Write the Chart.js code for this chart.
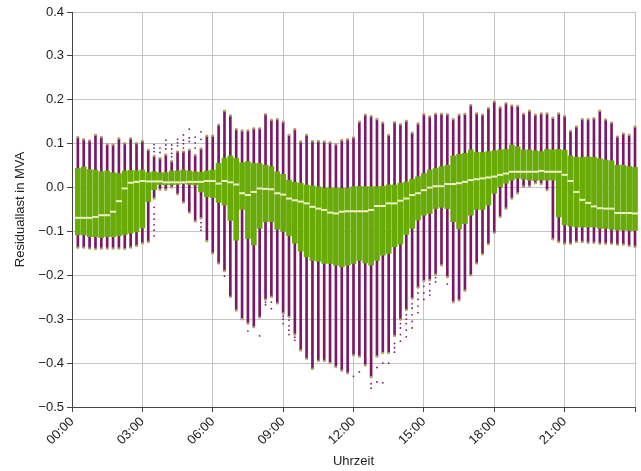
<!DOCTYPE html>
<html>
<head>
<meta charset="utf-8">
<script src="https://cdn.jsdelivr.net/npm/chart.js@4"></script>
<style>
  html, body { margin: 0; padding: 0; background: #fff; }
</style>
</head>
<body>
<canvas id="chart" width="641" height="471"></canvas>
<script>
// 15-minute slots, end of interval in hours (00:15 ... 24:00)
const slots = Array.from({ length: 96 }, (_, i) => (i + 1) * 0.25);

const maxs = [
  0.115, 0.110, 0.107, 0.120, 0.115, 0.099, 0.098, 0.112, 0.101, 0.112, 0.101, 0.106,
  0.086, 0.072, 0.067, 0.075, 0.060, 0.082, 0.082, 0.086, 0.074, 0.089, 0.118, 0.118,
  0.143, 0.175, 0.164, 0.133, 0.130, 0.130, 0.135, 0.135, 0.167, 0.154, 0.156, 0.150,
  0.120, 0.133, 0.105, 0.120, 0.106, 0.106, 0.105, 0.103, 0.099, 0.108, 0.110, 0.114,
  0.150, 0.166, 0.163, 0.156, 0.148, 0.120, 0.149, 0.144, 0.152, 0.125, 0.146, 0.167,
  0.162, 0.168, 0.168, 0.167, 0.156, 0.166, 0.168, 0.188, 0.169, 0.166, 0.181, 0.196,
  0.183, 0.192, 0.187, 0.186, 0.168, 0.175, 0.166, 0.169, 0.169, 0.159, 0.169, 0.163,
  0.129, 0.139, 0.156, 0.156, 0.158, 0.175, 0.155, 0.148, 0.116, 0.123, 0.120, 0.139,
];
const q3s = [
  0.044, 0.047, 0.041, 0.040, 0.036, 0.038, 0.034, 0.032, 0.038, 0.039, 0.038, 0.040,
  0.034, 0.036, 0.034, 0.034, 0.038, 0.038, 0.040, 0.038, 0.036, 0.035, 0.038, 0.040,
  0.055, 0.067, 0.072, 0.067, 0.057, 0.059, 0.055, 0.055, 0.051, 0.048, 0.036, 0.030,
  0.017, 0.012, 0.010, 0.006, 0.004, 0.002, 0.000, 0.000, -0.001, -0.002, -0.001, 0.002,
  0.003, 0.002, 0.002, 0.002, 0.003, 0.006, 0.006, 0.010, 0.013, 0.019, 0.025, 0.032,
  0.040, 0.044, 0.048, 0.051, 0.072, 0.076, 0.078, 0.086, 0.080, 0.080, 0.082, 0.084,
  0.086, 0.087, 0.097, 0.093, 0.086, 0.086, 0.084, 0.082, 0.087, 0.086, 0.087, 0.085,
  0.072, 0.069, 0.069, 0.070, 0.069, 0.066, 0.063, 0.061, 0.051, 0.051, 0.048, 0.046,
];
const medians = [
  -0.069, -0.069, -0.069, -0.067, -0.063, -0.063, -0.055, -0.031, -0.002, 0.011, 0.013, 0.015,
  0.014, 0.014, 0.014, 0.012, 0.012, 0.012, 0.012, 0.013, 0.013, 0.013, 0.015, 0.015,
  0.009, 0.015, 0.012, 0.007, -0.013, -0.017, -0.010, -0.002, -0.003, -0.004, -0.013, -0.016,
  -0.025, -0.029, -0.032, -0.036, -0.044, -0.048, -0.051, -0.057, -0.059, -0.055, -0.054, -0.054,
  -0.054, -0.054, -0.051, -0.042, -0.042, -0.036, -0.036, -0.030, -0.025, -0.017, -0.013, -0.006,
  0.000, 0.003, 0.003, 0.008, 0.008, 0.010, 0.013, 0.017, 0.019, 0.021, 0.023, 0.025,
  0.029, 0.032, 0.036, 0.036, 0.036, 0.036, 0.036, 0.038, 0.036, 0.036, 0.036, 0.029,
  0.015, -0.010, -0.028, -0.035, -0.043, -0.047, -0.048, -0.048, -0.058, -0.058, -0.058, -0.059,
];
const q1s = [
  -0.108, -0.108, -0.112, -0.112, -0.114, -0.112, -0.112, -0.110, -0.107, -0.104, -0.101, -0.092,
  -0.032, -0.005, 0.007, 0.006, 0.006, 0.007, 0.009, 0.007, 0.006, -0.010, -0.021, -0.023,
  -0.034, -0.040, -0.075, -0.120, -0.050, -0.116, -0.131, -0.093, -0.078, -0.078, -0.095, -0.100,
  -0.110, -0.127, -0.145, -0.158, -0.166, -0.168, -0.173, -0.173, -0.177, -0.181, -0.177, -0.173,
  -0.166, -0.172, -0.177, -0.166, -0.154, -0.150, -0.135, -0.129, -0.107, -0.093, -0.074, -0.063,
  -0.059, -0.048, -0.045, -0.048, -0.078, -0.094, -0.082, -0.063, -0.050, -0.050, -0.040, -0.013,
  0.002, 0.010, 0.017, 0.021, 0.019, 0.017, 0.016, 0.017, 0.017, 0.017, -0.067, -0.085,
  -0.088, -0.090, -0.090, -0.090, -0.090, -0.093, -0.093, -0.095, -0.097, -0.097, -0.098, -0.098,
];
const mins = [
  -0.137, -0.137, -0.139, -0.140, -0.139, -0.139, -0.139, -0.139, -0.140, -0.137, -0.133, -0.127,
  -0.124, -0.025, -0.005, -0.005, 0.000, -0.015, -0.034, -0.057, -0.077, -0.070, -0.122, -0.150,
  -0.173, -0.190, -0.249, -0.280, -0.300, -0.310, -0.318, -0.296, -0.255, -0.249, -0.264, -0.287,
  -0.295, -0.335, -0.371, -0.390, -0.413, -0.395, -0.395, -0.400, -0.409, -0.417, -0.423, -0.382,
  -0.385, -0.405, -0.432, -0.385, -0.377, -0.377, -0.338, -0.301, -0.279, -0.253, -0.228, -0.213,
  -0.211, -0.198, -0.177, -0.204, -0.261, -0.257, -0.235, -0.200, -0.173, -0.152, -0.129, -0.103,
  -0.067, -0.048, -0.025, -0.013, 0.002, 0.003, 0.010, 0.008, -0.006, -0.118, -0.124, -0.128,
  -0.128, -0.124, -0.124, -0.126, -0.126, -0.128, -0.128, -0.128, -0.130, -0.130, -0.133, -0.135,
];
// [slot index, value]
const outliers = [
  [13, 0.082], [13, 0.090], [13, 0.098], [13, -0.045], [13, -0.060], [13, -0.072], [13, -0.085], [13, -0.097], [13, -0.110],
  [14, 0.080], [14, 0.090],
  [15, 0.088], [15, 0.097], [15, 0.108],
  [16, 0.070], [16, 0.078], [16, 0.088], [16, 0.097],
  [17, 0.095], [17, 0.102], [17, 0.110],
  [18, 0.090], [18, 0.100], [18, 0.108], [18, 0.120],
  [19, 0.105], [19, 0.113], [19, 0.133],
  [20, 0.090], [20, 0.102], [20, 0.115],
  [21, 0.110], [21, 0.127], [21, -0.080], [21, -0.090], [21, -0.097],
  [25, -0.202], [29, -0.327], [31, -0.338],
  [32, -0.261], [32, -0.267], [33, -0.261], [33, -0.276],
  [35, -0.293], [35, -0.300], [35, -0.310],
  [36, -0.302], [36, -0.315], [36, -0.325], [36, -0.335],
  [37, -0.341], [37, -0.348],
  [47, -0.430], [48, -0.420], [50, -0.447], [50, -0.457],
  [51, -0.410], [51, -0.443], [52, -0.400], [52, -0.445], [53, -0.400],
  [54, -0.355], [54, -0.365], [54, -0.375],
  [55, -0.310], [55, -0.320], [55, -0.335], [55, -0.350],
  [56, -0.290], [56, -0.300], [56, -0.310], [56, -0.325], [56, -0.340],
  [57, -0.265], [57, -0.275], [57, -0.290], [57, -0.305], [57, -0.320],
  [58, -0.240], [58, -0.255], [58, -0.270], [58, -0.285],
  [59, -0.225], [59, -0.240], [59, -0.255],
  [60, -0.220], [60, -0.235], [60, -0.245],
  [61, -0.205], [61, -0.215], [63, -0.220],
];

const PURPLE = '#7a1866';
const GREEN = '#68aa08';
const MEDIAN = '#f2f0c6';
const CAP = '#b4a45a';
const FONT = "'Liberation Sans', Arial, sans-serif";

const fmtY = (v) => {
  const r = Math.round(v * 10) / 10;
  const s = Math.abs(r).toFixed(1);
  return r < 0 ? '\u2212' + s : s;
};

new Chart(document.getElementById('chart').getContext('2d'), {
  type: 'bar',
  data: {
    datasets: [
      {
        label: 'Whisker',
        data: slots.map((x, i) => ({ x, y: [mins[i], maxs[i]] })),
        backgroundColor: PURPLE,
        barThickness: 2,
        grouped: false,
        order: 5,
        clip: 6,
      },
      {
        label: 'Box',
        data: slots.map((x, i) => ({ x, y: [q1s[i], q3s[i]] })),
        backgroundColor: GREEN,
        barThickness: 5,
        grouped: false,
        order: 4,
        clip: 6,
      },
      {
        type: 'scatter',
        label: 'Caps',
        data: slots.flatMap((x, i) => [{ x, y: mins[i] }, { x, y: maxs[i] }]),
        pointStyle: 'rect',
        pointRadius: 1.6,
        backgroundColor: CAP,
        borderWidth: 0,
        order: 3,
        clip: 6,
      },
      {
        type: 'scatter',
        label: 'Median',
        data: slots.map((x, i) => ({ x, y: medians[i] })),
        pointStyle: 'line',
        pointRadius: 3,
        borderColor: MEDIAN,
        borderWidth: 2,
        order: 2,
        clip: 6,
      },
      {
        type: 'scatter',
        label: 'Ausreißer',
        data: outliers.map(([i, y]) => ({ x: slots[i], y })),
        pointRadius: 0.9,
        backgroundColor: PURPLE,
        borderWidth: 0,
        order: 1,
      },
    ],
  },
  options: {
    responsive: false,
    animation: false,
    devicePixelRatio: 1,
    layout: { padding: { top: 12, right: 5, left: 0, bottom: 0 } },
    plugins: {
      legend: { display: false },
      tooltip: { enabled: false },
    },
    scales: {
      x: {
        type: 'linear',
        min: 0,
        max: 24,
        offset: false,
        grid: { offset: false, color: '#c4c4c4', tickColor: '#444', tickLength: 5 },
        border: { color: '#444' },
        ticks: {
          stepSize: 3,
          autoSkip: false,
          minRotation: 45,
          maxRotation: 45,
          padding: 2,
          color: '#222',
          font: { family: FONT, size: 13 },
          callback: (v) => (v >= 24 ? '' : String(v).padStart(2, '0') + ':00'),
        },
        title: {
          display: true,
          text: 'Uhrzeit',
          color: '#222',
          font: { family: FONT, size: 13 },
          padding: { top: 0, bottom: 2 },
        },
        afterFit(scale) {
          scale.height = 64;
          scale.paddingRight = 0;
        },
      },
      y: {
        min: -0.5,
        max: 0.4,
        grid: { color: '#c4c4c4', tickColor: '#444', tickLength: 5 },
        border: { color: '#444' },
        ticks: {
          stepSize: 0.1,
          padding: 3,
          color: '#222',
          font: { family: FONT, size: 13 },
          callback: (v) => fmtY(v),
        },
        title: {
          display: true,
          text: 'Residuallast in MVA',
          color: '#222',
          font: { family: FONT, size: 13 },
          padding: { top: 13, bottom: 0 },
        },
        afterFit(scale) { scale.width = 72; },
      },
    },
  },
});
</script>
</body>
</html>
